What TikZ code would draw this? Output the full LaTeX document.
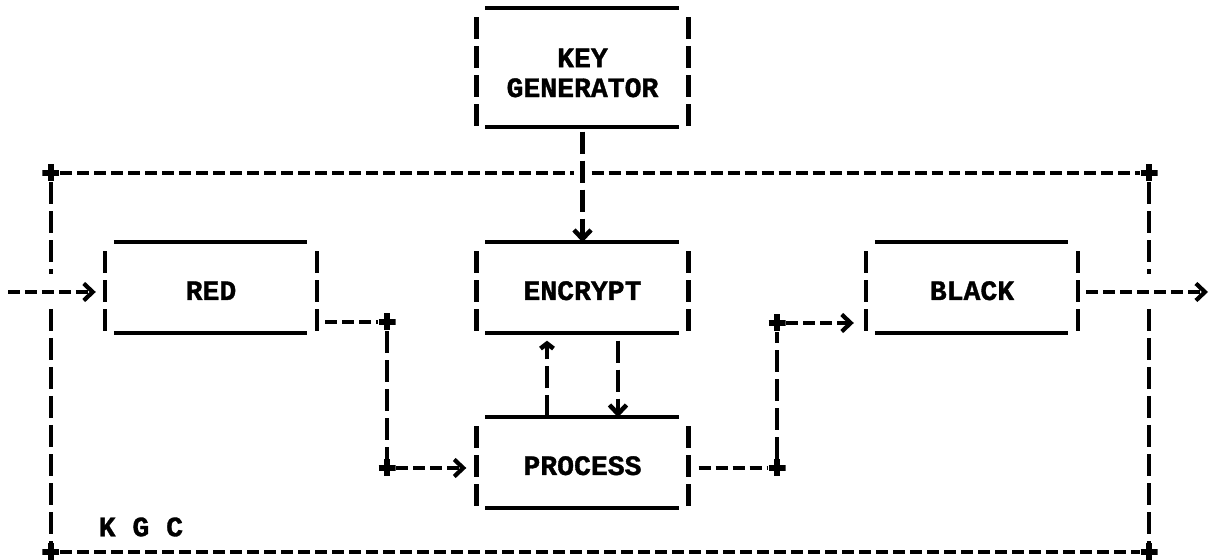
\documentclass[tikz,border=0pt]{standalone}
\usepackage{fontspec}
\setmonofont[BoldFeatures={FakeBold=1.2}]{Liberation Mono}
\usetikzlibrary{arrows.meta}

\tikzset{
  typed/.style={font=\ttfamily\bfseries\fontsize{8}{8.5}\selectfont},
  rule/.style={line width=1.2pt},
  hline/.style={line width=1.2pt, dash pattern=on 0.12cm off 0.05cm},
  vline/.style={line width=1.3pt, dash pattern=on 0.22cm off 0.07cm},
  % corner mark of a line
  joint/.style={inner sep=0pt, minimum size=0.17cm,
    path picture={\draw[line width=1.8pt]
      (path picture bounding box.west) -- (path picture bounding box.east)
      (path picture bounding box.north) -- (path picture bounding box.south);}},
  row/.style={text height=0.25cm, text depth=0pt},
  % box: underscores on top and bottom, bars on the sides
  unit/.style={typed, inner sep=0pt, align=center,
    minimum width=2.11cm, minimum height=0.89cm,
    append after command={
      ([xshift=0.09cm]\tikzlastnode.north west) edge[rule] ([xshift=-0.1cm]\tikzlastnode.north east)
      ([xshift=0.09cm]\tikzlastnode.south west) edge[rule] ([xshift=-0.1cm]\tikzlastnode.south east)
      ([yshift=-0.09cm]\tikzlastnode.north west) edge[vline] (\tikzlastnode.south west)
      ([yshift=-0.09cm]\tikzlastnode.north east) edge[vline] (\tikzlastnode.south east)}},
  >={Straight Barb[length=0.09cm,width=0.17cm]}
}
\newcommand\lowered[1]{\raisebox{-0.055cm}[\height][\depth]{#1}}

\begin{document}
\begin{tikzpicture}
  \useasboundingbox (0,0) rectangle (12.09,5.60);

  % boxes
  \node[unit, minimum height=1.17cm] (keygen) at (5.825,4.925)
    {\lowered{KEY}\\\lowered{GENERATOR}};
  \node[unit, row] (red)     at (2.11,2.725)  {RED};
  \node[unit, row] (encrypt) at (5.825,2.725) {ENCRYPT};
  \node[unit, row] (black)   at (9.72,2.725)  {BLACK};
  \node[unit, row] (process) at (5.825,0.975) {PROCESS};

  % corners of the KGC frame
  \node[joint] (c1) at (0.51,3.87)  {};
  \node[joint] (c2) at (11.49,3.87) {};
  \node[joint] (c3) at (0.51,0.08)  {};
  \node[joint] (c4) at (11.49,0.08) {};
  \node[typed, anchor=west, inner sep=0pt] (kgc) at (0.98,0.33) {K G C};

  \coordinate (in)  at (0.08,2.68);
  \coordinate (out) at (12.08,2.68);

  % frame
  \draw[hline] (c1) -- ([xshift=-0.09cm]c1 -| keygen.south);
  \draw[hline] ([xshift=0.09cm]c2 -| keygen.south) -- (c2);
  \draw[hline] (c3) -- (c4);
  \draw[vline] (c1) -- ([yshift=0.18cm]c1 |- in);
  \draw[vline] ([yshift=-0.17cm]c3 |- in) -- (c3);
  \draw[vline] (c2) -- ([yshift=0.18cm]c2 |- in);
  \draw[vline] ([yshift=-0.17cm]c4 |- in) -- (c4);

  % key feed
  \draw[vline, ->, shorten <=0.05cm] (keygen) -- (encrypt);

  % in and out
  \draw[hline, ->, shorten >=0.09cm] (in) -- (in -| red.west);
  \draw[hline, ->, shorten <=0.08cm] (out -| black.east) -- (out);

  % red -> process -> black
  \node[joint] (j1) at (3.87,2.38) {};
  \node[joint] (j2) at (3.87,0.92) {};
  \node[joint] (j3) at (7.77,0.92) {};
  \node[joint] (j4) at (7.77,2.37) {};
  \draw[hline, shorten <=0.08cm] (j1 -| red.east) -- (j1);
  \draw[vline] (j1) -- (j2);
  \draw[hline, ->, shorten >=0.1cm] (j2) -- (j2 -| process.west);
  \draw[hline, shorten <=0.1cm] (j3 -| process.east) -- (j3);
  \draw[vline] (j3) -- (j4);
  \draw[hline, ->, shorten >=0.12cm] (j4) -- (j4 -| black.west);

  % encrypt <-> process
  \draw[vline, -{Straight Barb[length=0.05cm,width=0.13cm]}, shorten >=0.08cm]
    ([xshift=-0.355cm]process.north) -- ([xshift=-0.355cm]encrypt.south);
  \draw[vline, ->, shorten <=0.08cm]
    ([xshift=0.355cm]encrypt.south) -- ([xshift=0.355cm]process.north);
\end{tikzpicture}
\end{document}
